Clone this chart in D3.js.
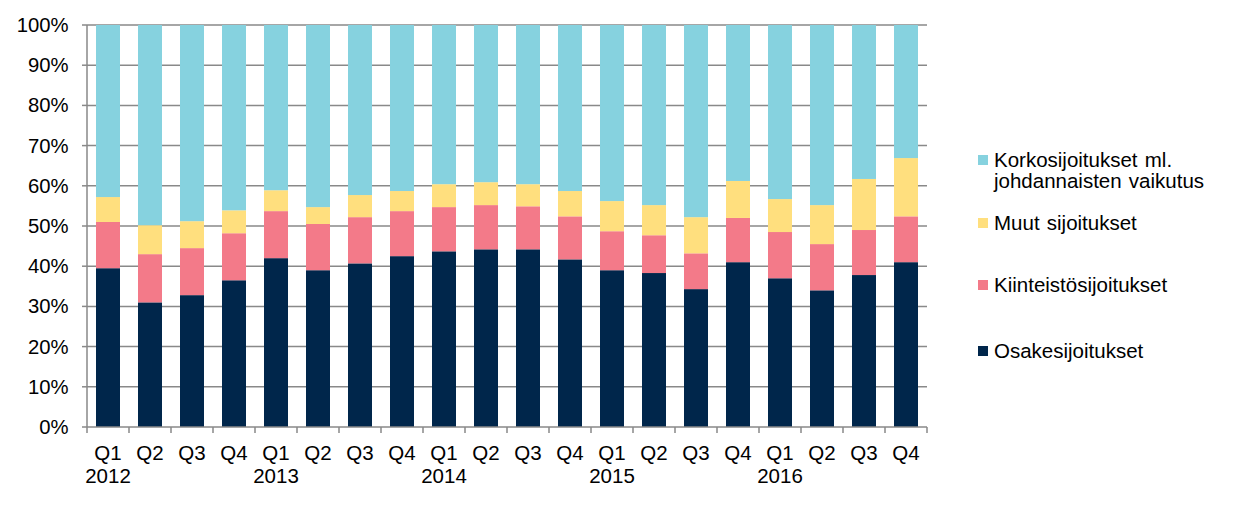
<!DOCTYPE html>
<html>
<head>
<meta charset="utf-8">
<script src="https://cdn.jsdelivr.net/npm/d3@7"></script>
<style>
  html, body { margin: 0; padding: 0; background: #fff; }
  svg { display: block; }
  text { font-family: "Liberation Sans", Arial, sans-serif; fill: #000; }
</style>
</head>
<body>
<svg id="chart" width="1240" height="532"></svg>
<script>
// ---- data (percent shares) ----
const quarters = ["Q1","Q2","Q3","Q4","Q1","Q2","Q3","Q4","Q1","Q2","Q3","Q4","Q1","Q2","Q3","Q4","Q1","Q2","Q3","Q4"];
const years = ["2012","","","","2013","","","","2014","","","","2015","","","","2016","","",""];
const osake =      [39.5,31.0,32.8,36.5,42.0,39.0,40.7,42.5,43.7,44.2,44.2,41.7,39.0,38.3,34.3,41.0,37.0,34.0,37.8,41.0];
const kiinteisto = [11.5,12.0,11.7,11.7,11.7,11.5,11.5,11.2,11.0,11.0,10.7,10.7, 9.7, 9.4, 8.9,11.0,11.5,11.5,11.2,11.4];
const muut =       [ 6.2, 7.2, 6.7, 5.7, 5.2, 4.2, 5.5, 5.0, 5.7, 5.7, 5.5, 6.3, 7.5, 7.5, 9.0, 9.2, 8.2, 9.7,12.7,14.5];
const korko =      [42.8,49.8,48.8,46.1,41.1,45.3,42.3,41.3,39.6,39.1,39.6,41.3,43.8,44.8,47.8,38.8,43.3,44.8,38.3,33.1];
const yTicks = [0,10,20,30,40,50,60,70,80,90,100];

const seriesNames = ["Osakesijoitukset","Kiinteistösijoitukset","Muut sijoitukset","Korkosijoitukset ml. johdannaisten vaikutus"];
const seriesValues = [osake, kiinteisto, muut, korko];
const colors = ["#00264b","#f37a89","#ffdf7e","#86d2df"];

// ---- build ----
const svg = d3.select("#chart");
const pL = 87, pR = 927, pT = 25, pB = 427;

const x = d3.scaleBand().domain(d3.range(quarters.length)).range([pL, pR])
  .paddingInner(0.4286).paddingOuter(0.2143);
const y = d3.scaleLinear().domain([0,100]).range([pB, pT]);

const table = quarters.map((q,i) => {
  const o = {i};
  seriesValues.forEach((arr,k) => o["s"+k] = arr[i]);
  return o;
});
const keys = seriesValues.map((_,k) => "s"+k);
const stacked = d3.stack().keys(keys).offset(d3.stackOffsetExpand)(table);

// gridlines
svg.append("g").selectAll("line").data(yTicks.filter(t => t > 0)).join("line")
  .attr("x1", pL).attr("x2", pR)
  .attr("y1", d => y(d)).attr("y2", d => y(d))
  .attr("stroke", "#898989").attr("stroke-width", 1.5);

// bars
svg.append("g").selectAll("g").data(stacked).join("g")
  .attr("fill", (d,k) => colors[k])
  .selectAll("rect").data(d => d).join("rect")
  .attr("x", d => x(d.data.i))
  .attr("width", x.bandwidth())
  .attr("y", d => y(d[1]*100))
  .attr("height", d => y(d[0]*100) - y(d[1]*100));

// y axis
const yAxis = svg.append("g");
yAxis.append("line").attr("x1", pL).attr("x2", pL).attr("y1", pT).attr("y2", pB)
  .attr("stroke", "#898989").attr("stroke-width", 1.5);
yAxis.selectAll("line.tk").data(yTicks).join("line").attr("class","tk")
  .attr("x1", pL - 5).attr("x2", pL).attr("y1", d => y(d)).attr("y2", d => y(d))
  .attr("stroke", "#898989").attr("stroke-width", 1.5);
yAxis.selectAll("text").data(yTicks).join("text")
  .attr("x", 68.5).attr("y", d => y(d) + 7)
  .attr("text-anchor", "end").attr("font-size", 20.3)
  .text(d => d + "%");

// x axis
const xAxis = svg.append("g");
xAxis.append("line").attr("x1", pL).attr("x2", pR).attr("y1", pB).attr("y2", pB)
  .attr("stroke", "#898989").attr("stroke-width", 1.5);
const bounds = d3.range(quarters.length + 1).map(i => pL + i * x.step());
xAxis.selectAll("line.tk").data(bounds).join("line").attr("class","tk")
  .attr("x1", d => d).attr("x2", d => d).attr("y1", pB).attr("y2", pB + 6)
  .attr("stroke", "#898989").attr("stroke-width", 1.5);
xAxis.selectAll("text.q").data(quarters).join("text").attr("class","q")
  .attr("x", (d,i) => x(i) + x.bandwidth()/2).attr("y", 460)
  .attr("text-anchor", "middle").attr("font-size", 20.5).text(d => d);
xAxis.selectAll("text.yr").data(years).join("text").attr("class","yr")
  .attr("x", (d,i) => x(i) + x.bandwidth()/2).attr("y", 483)
  .attr("text-anchor", "middle").attr("font-size", 20.5).text(d => d);

// legend (top to bottom: korko, muut, kiinteistö, osake)
const legend = [
  {k:3, lines:["Korkosijoitukset ml.","johdannaisten vaikutus"], base:167},
  {k:2, lines:["Muut sijoitukset"], base:230},
  {k:1, lines:["Kiinteistösijoitukset"], base:292},
  {k:0, lines:["Osakesijoitukset"], base:358}
];
const lg = svg.append("g").selectAll("g").data(legend).join("g");
lg.append("rect").attr("x", 978).attr("y", d => d.base - 12).attr("width", 10).attr("height", 10)
  .attr("fill", d => colors[d.k]);
lg.each(function(d) {
  d3.select(this).selectAll("text").data(d.lines).join("text")
    .attr("x", 994).attr("y", (t,j) => d.base + j*21)
    .attr("font-size", 20.5).attr("word-spacing", 1.5).text(t => t);
});
</script>
</body>
</html>
